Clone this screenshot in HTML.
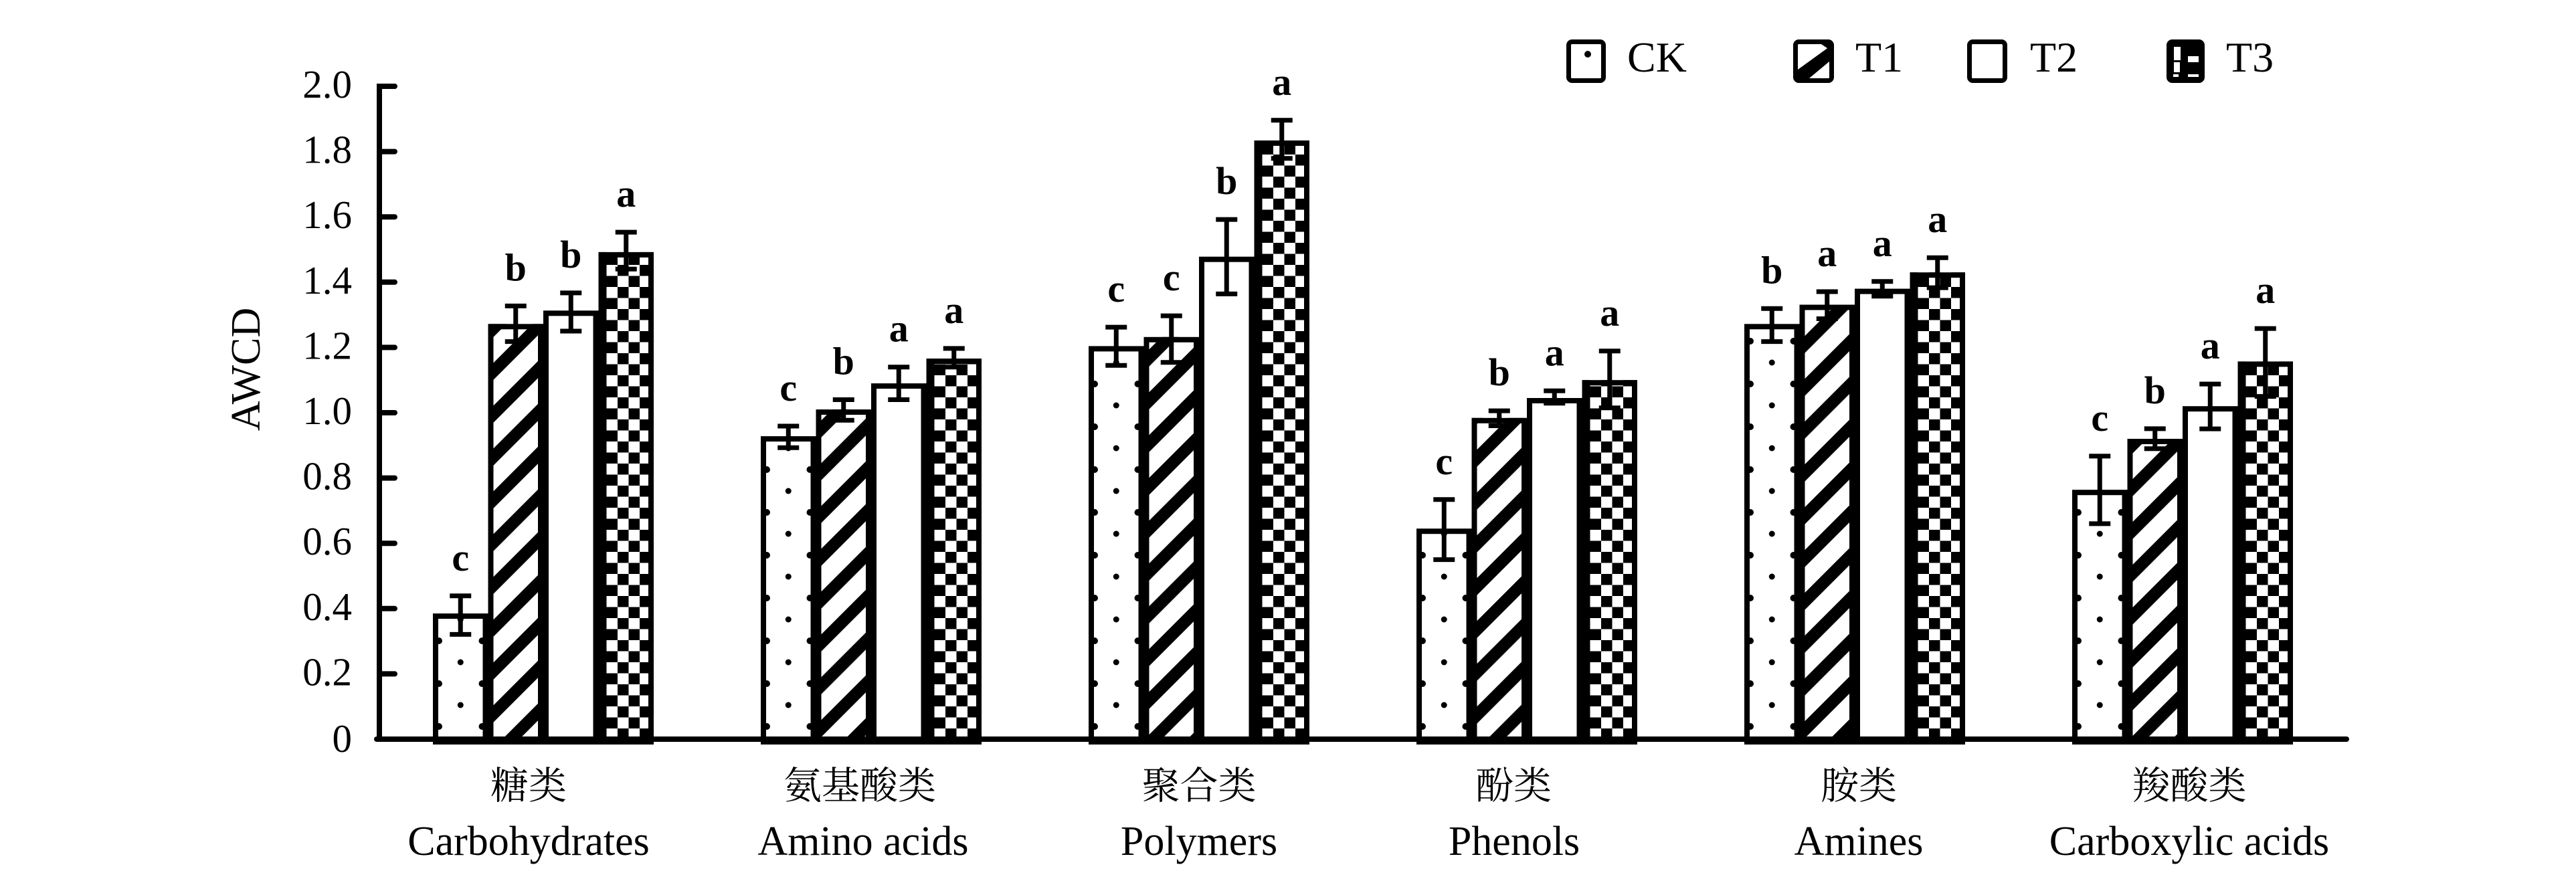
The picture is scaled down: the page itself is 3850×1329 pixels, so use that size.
<!DOCTYPE html>
<html><head><meta charset="utf-8"><style>
html,body{margin:0;padding:0;background:#fff;}
svg{display:block;}
.b{fill:none;stroke:#000;stroke-width:8;}
.e{fill:none;stroke:#000;stroke-width:7;}
.t{font-family:"Liberation Serif","Noto Serif CJK SC",serif;fill:#000;}
.tk{font-size:59px;text-anchor:end;}
.l{font-size:58px;font-weight:bold;text-anchor:middle;}
.cn{font-size:57px;text-anchor:middle;}
.en{font-size:62px;text-anchor:middle;}
.lg{font-size:64px;}
</style></head><body>
<svg width="3850" height="1329" viewBox="0 0 3850 1329" xmlns="http://www.w3.org/2000/svg">
<defs>
<pattern id="dots" patternUnits="userSpaceOnUse" x="647" y="30" width="490" height="64">
<rect x="0" y="0" width="490" height="64" fill="#fff"/>
<circle cx="41.25" cy="0" r="4.5" fill="#000"/>
<circle cx="41.25" cy="64" r="4.5" fill="#000"/>
<circle cx="9" cy="32" r="5" fill="#000"/>
<circle cx="73.5" cy="32" r="5" fill="#000"/>
</pattern>
<pattern id="hatch" patternUnits="userSpaceOnUse" x="0" y="0" width="45.25" height="45.25" patternTransform="rotate(45)">
<rect x="0" y="0" width="45.25" height="45.25" fill="#fff"/>
<rect x="0" y="0" width="18" height="45.25" fill="#000"/>
</pattern>
<pattern id="check" patternUnits="userSpaceOnUse" x="906.5" y="0" width="490" height="33">
<rect x="0" y="0" width="490" height="33" fill="#000"/>
<rect x="0" y="0" width="16.5" height="16.5" fill="#fff"/>
<rect x="33" y="0" width="16.5" height="16.5" fill="#fff"/>
<rect x="16.5" y="16.5" width="16.5" height="16.5" fill="#fff"/>
<rect x="49.5" y="16.5" width="16.5" height="16.5" fill="#fff"/>
</pattern>
</defs>
<rect x="0" y="0" width="3850" height="1329" fill="#fff"/>

<!-- Group 0 -->
<rect x="647" y="917.1" width="82.5" height="187.9" fill="url(#dots)"/><rect class="b" x="651" y="921.1" width="74.5" height="187.9"/>
<rect x="729.5" y="484.3" width="82.5" height="620.7" fill="url(#hatch)"/><rect class="b" x="733.5" y="488.3" width="74.5" height="620.7"/>
<rect x="812" y="464.3" width="82.5" height="640.7" fill="#fff"/><rect class="b" x="816" y="468.3" width="74.5" height="640.7"/>
<rect x="894.5" y="376.9" width="82.5" height="728.1" fill="url(#check)"/><rect class="b" x="898.5" y="380.9" width="74.5" height="728.1"/>

<!-- Group 1 -->
<rect x="1137" y="652.1" width="82.5" height="452.9" fill="url(#dots)"/><rect class="b" x="1141" y="656.1" width="74.5" height="452.9"/>
<rect x="1219.5" y="612.1" width="82.5" height="492.9" fill="url(#hatch)"/><rect class="b" x="1223.5" y="616.1" width="74.5" height="492.9"/>
<rect x="1302" y="573.1" width="82.5" height="531.9" fill="#fff"/><rect class="b" x="1306" y="577.1" width="74.5" height="531.9"/>
<rect x="1384.5" y="536" width="82.5" height="569" fill="url(#check)"/><rect class="b" x="1388.5" y="540" width="74.5" height="569"/>

<!-- Group 2 -->
<rect x="1627" y="517.4" width="82.5" height="587.6" fill="url(#dots)"/><rect class="b" x="1631" y="521.4" width="74.5" height="587.6"/>
<rect x="1709.5" y="503.8" width="82.5" height="601.2" fill="url(#hatch)"/><rect class="b" x="1713.5" y="507.8" width="74.5" height="601.2"/>
<rect x="1792" y="383.7" width="82.5" height="721.3" fill="#fff"/><rect class="b" x="1796" y="387.7" width="74.5" height="721.3"/>
<rect x="1874.5" y="210" width="82.5" height="895" fill="url(#check)"/><rect class="b" x="1878.5" y="214" width="74.5" height="895"/>

<!-- Group 3 -->
<rect x="2117" y="790.2" width="82.5" height="314.8" fill="url(#dots)"/><rect class="b" x="2121" y="794.2" width="74.5" height="314.8"/>
<rect x="2199.5" y="624.8" width="82.5" height="480.2" fill="url(#hatch)"/><rect class="b" x="2203.5" y="628.8" width="74.5" height="480.2"/>
<rect x="2282" y="595" width="82.5" height="510" fill="#fff"/><rect class="b" x="2286" y="599" width="74.5" height="510"/>
<rect x="2364.5" y="568.2" width="82.5" height="536.8" fill="url(#check)"/><rect class="b" x="2368.5" y="572.2" width="74.5" height="536.8"/>

<!-- Group 4 -->
<rect x="2607" y="484.3" width="82.5" height="620.7" fill="url(#dots)"/><rect class="b" x="2611" y="488.3" width="74.5" height="620.7"/>
<rect x="2689.5" y="455.5" width="82.5" height="649.5" fill="url(#hatch)"/><rect class="b" x="2693.5" y="459.5" width="74.5" height="649.5"/>
<rect x="2772" y="431.6" width="82.5" height="673.4" fill="#fff"/><rect class="b" x="2776" y="435.6" width="74.5" height="673.4"/>
<rect x="2854.5" y="407.2" width="82.5" height="697.8" fill="url(#check)"/><rect class="b" x="2858.5" y="411.2" width="74.5" height="697.8"/>

<!-- Group 5 -->
<rect x="3097" y="732.2" width="82.5" height="372.8" fill="url(#dots)"/><rect class="b" x="3101" y="736.2" width="74.5" height="372.8"/>
<rect x="3179.5" y="656" width="82.5" height="449" fill="url(#hatch)"/><rect class="b" x="3183.5" y="660" width="74.5" height="449"/>
<rect x="3262" y="607.2" width="82.5" height="497.8" fill="#fff"/><rect class="b" x="3266" y="611.2" width="74.5" height="497.8"/>
<rect x="3344.5" y="540.4" width="82.5" height="564.6" fill="url(#check)"/><rect class="b" x="3348.5" y="544.4" width="74.5" height="564.6"/>

<!-- Error bars -->
<path class="e" d="
M688.25,890.8V948.4M672.25,890.8H704.25M672.25,948.4H704.25
M770.75,457.4V510.6M754.75,457.4H786.75M754.75,510.6H786.75
M853.25,437.9V495M837.25,437.9H869.25M837.25,495H869.25
M935.75,347.1V402.3M919.75,347.1H951.75M919.75,402.3H951.75
M1178.25,637V669.2M1162.25,637H1194.25M1162.25,669.2H1194.25
M1260.75,597.5V628.2M1244.75,597.5H1276.75M1244.75,628.2H1276.75
M1343.25,548.7V597.5M1327.25,548.7H1359.25M1327.25,597.5H1359.25
M1425.75,520.9V548.7M1409.75,520.9H1441.75M1409.75,548.7H1441.75
M1668.25,489.1V546.2M1652.25,489.1H1684.25M1652.25,546.2H1684.25
M1750.75,472.1V541.8M1734.75,472.1H1766.75M1734.75,541.8H1766.75
M1833.25,328.1V439.4M1817.25,328.1H1849.25M1817.25,439.4H1849.25
M1915.75,179.8V236.8M1899.75,179.8H1931.75M1899.75,236.8H1931.75
M2158.25,746.8V836.6M2142.25,746.8H2174.25M2142.25,836.6H2174.25
M2240.75,614.1V636.5M2224.75,614.1H2256.75M2224.75,636.5H2256.75
M2323.25,584.3V602.8M2307.25,584.3H2339.25M2307.25,602.8H2339.25
M2405.75,524.8V609.7M2389.75,524.8H2421.75M2389.75,609.7H2421.75
M2648.25,461.3V510.6M2632.25,461.3H2664.25M2632.25,510.6H2664.25
M2730.75,436V476.5M2714.75,436H2746.75M2714.75,476.5H2746.75
M2813.25,420.8V442.8M2797.25,420.8H2829.25M2797.25,442.8H2829.25
M2895.75,385.2V430.1M2879.75,385.2H2911.75M2879.75,430.1H2911.75
M3138.25,681.9V782.9M3122.25,681.9H3154.25M3122.25,782.9H3154.25
M3220.75,640.9V670.7M3204.75,640.9H3236.75M3204.75,670.7H3236.75
M3303.25,574.1V641.1M3287.25,574.1H3319.25M3287.25,641.1H3319.25
M3385.75,491.1V592.6M3369.75,491.1H3401.75M3369.75,592.6H3401.75"/>

<!-- Significance letters -->
<g class="t l">
<text x="688.25" y="852.8">c</text><text x="770.75" y="419.4">b</text><text x="853.25" y="399.9">b</text><text x="935.75" y="309.1">a</text>
<text x="1178.25" y="599">c</text><text x="1260.75" y="559.5">b</text><text x="1343.25" y="510.7">a</text><text x="1425.75" y="482.9">a</text>
<text x="1668.25" y="451.1">c</text><text x="1750.75" y="434.1">c</text><text x="1833.25" y="290.1">b</text><text x="1915.75" y="141.8">a</text>
<text x="2158.25" y="708.8">c</text><text x="2240.75" y="576.1">b</text><text x="2323.25" y="546.3">a</text><text x="2405.75" y="486.8">a</text>
<text x="2648.25" y="423.3">b</text><text x="2730.75" y="398">a</text><text x="2813.25" y="382.8">a</text><text x="2895.75" y="347.2">a</text>
<text x="3138.25" y="643.9">c</text><text x="3220.75" y="602.9">b</text><text x="3303.25" y="536.1">a</text><text x="3385.75" y="453.1">a</text>
</g>

<!-- Axes -->
<path d="M567,125V1109" stroke="#000" stroke-width="8" fill="none"/>
<path d="M563,1105H3507" stroke="#000" stroke-width="8" fill="none" stroke-linecap="round"/>
<path stroke="#000" stroke-width="8" fill="none" stroke-linecap="round" d="
M567,129H590M567,226.6H590M567,324.2H590M567,421.8H590M567,519.4H590M567,617H590M567,714.6H590M567,812.2H590M567,909.8H590M567,1007.4H590"/>

<!-- Tick labels -->
<g class="t tk">
<text x="526" y="146">2.0</text>
<text x="526" y="243.6">1.8</text>
<text x="526" y="341.2">1.6</text>
<text x="526" y="438.8">1.4</text>
<text x="526" y="536.4">1.2</text>
<text x="526" y="634">1.0</text>
<text x="526" y="731.6">0.8</text>
<text x="526" y="829.2">0.6</text>
<text x="526" y="926.8">0.4</text>
<text x="526" y="1024.4">0.2</text>
<text x="526" y="1124">0</text>
</g>

<!-- Y axis title -->
<text class="t" x="388" y="552" font-size="62" text-anchor="middle" transform="rotate(-90 388 552)">AWCD</text>

<!-- X category labels -->
<g class="t cn">
<text x="790" y="1194">糖类</text>
<text x="1285" y="1194">氨基酸类</text>
<text x="1792" y="1194">聚合类</text>
<text x="2262" y="1194">酚类</text>
<text x="2778" y="1194">胺类</text>
<text x="3272" y="1194">羧酸类</text>
</g>
<g class="t en">
<text x="790" y="1278">Carbohydrates</text>
<text x="1290" y="1278">Amino acids</text>
<text x="1792" y="1278">Polymers</text>
<text x="2263" y="1278">Phenols</text>
<text x="2778" y="1278">Amines</text>
<text x="3272" y="1278">Carboxylic acids</text>
</g>

<!-- Legend -->
<rect x="2344.5" y="62.5" width="52" height="58" rx="5" fill="#fff" stroke="#000" stroke-width="7"/>
<circle cx="2373" cy="81" r="5" fill="#000"/>
<text class="t lg" x="2432" y="107">CK</text>

<rect x="2683.5" y="62.5" width="54" height="58" rx="5" fill="#fff" stroke="#000" stroke-width="7"/>
<polygon points="2687,104 2734,70 2734,92 2704,117 2687,117" fill="#000"/>
<polygon points="2722,66 2734,66 2734,74" fill="#000"/>
<text class="t lg" x="2773" y="107">T1</text>

<rect x="2943.5" y="62.5" width="53" height="58" rx="5" fill="#fff" stroke="#000" stroke-width="7"/>
<text class="t lg" x="3034" y="107">T2</text>

<rect x="3241.5" y="62.5" width="50" height="58" rx="5" fill="#000" stroke="#000" stroke-width="7"/>
<rect x="3249" y="70" width="10" height="20" fill="#fff"/>
<rect x="3270" y="84" width="16" height="9" fill="#fff"/>
<rect x="3249" y="93" width="9" height="15" fill="#fff"/>
<rect x="3248" y="111" width="8" height="4" fill="#fff"/>
<rect x="3270" y="111" width="16" height="4" fill="#fff"/>
<text class="t lg" x="3327" y="107">T3</text>
</svg>
</body></html>
